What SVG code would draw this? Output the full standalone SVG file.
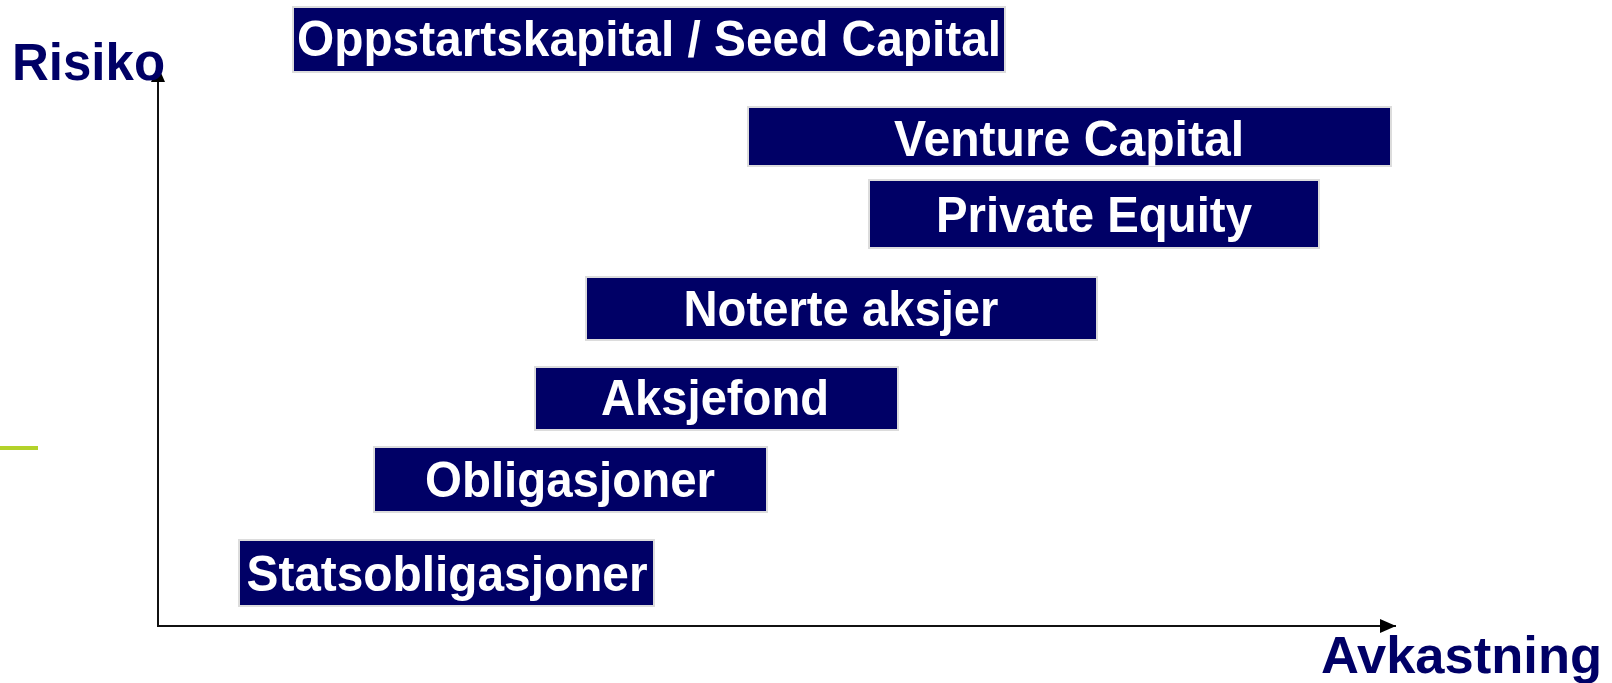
<svg xmlns="http://www.w3.org/2000/svg" width="1612" height="683" viewBox="0 0 1612 683">
  <style>
    .box rect { fill: #000066; stroke: #dcdcdc; stroke-width: 2; }
    .box text { fill: #ffffff; font-family: "Liberation Sans", Arial, sans-serif; font-weight: bold; font-size: 50px; text-anchor: middle; }
    .axislabel { fill: #000066; font-family: "Liberation Sans", Arial, sans-serif; font-weight: bold; }
    .axis { stroke: #111111; stroke-width: 2; fill: none; }
  </style>
  <defs>
    <marker id="arrow" viewBox="0 0 16 14" refX="16" refY="7" markerWidth="16" markerHeight="14" markerUnits="userSpaceOnUse" orient="auto">
      <path d="M0,0 L16,7 L0,14 Z" fill="#000000"/>
    </marker>
  </defs>
  <rect width="1612" height="683" fill="#ffffff"/>
  <line x1="0" y1="448" x2="38" y2="448" stroke="#b3d22a" stroke-width="4"/>

  <g id="connectors">
    <line class="axis" x1="158" y1="626" x2="158" y2="66" marker-end="url(#arrow)"/>
    <line class="axis" x1="157" y1="626" x2="1396" y2="626" marker-end="url(#arrow)"/>
  </g>

  <g id="label-risiko">
    <text class="axislabel" x="12" y="80" font-size="51">Risiko</text>
  </g>
  <g id="label-avkastning">
    <text class="axislabel" x="1321" y="673" font-size="52.5">Avkastning</text>
  </g>

  <g id="node-oppstart" class="box">
    <rect x="293" y="7" width="712" height="65"/>
    <text x="649" y="56" textLength="704" lengthAdjust="spacingAndGlyphs">Oppstartskapital / Seed Capital</text>
  </g>
  <g id="node-venture" class="box">
    <rect x="748" y="107" width="643" height="59"/>
    <text x="1069" y="156" textLength="350" lengthAdjust="spacingAndGlyphs">Venture Capital</text>
  </g>
  <g id="node-private" class="box">
    <rect x="869" y="180" width="450" height="68"/>
    <text x="1094" y="232" textLength="316" lengthAdjust="spacingAndGlyphs">Private Equity</text>
  </g>
  <g id="node-noterte" class="box">
    <rect x="586" y="277" width="511" height="63"/>
    <text x="841" y="326" textLength="315" lengthAdjust="spacingAndGlyphs">Noterte aksjer</text>
  </g>
  <g id="node-aksjefond" class="box">
    <rect x="535" y="367" width="363" height="63"/>
    <text x="715" y="415" textLength="228" lengthAdjust="spacingAndGlyphs">Aksjefond</text>
  </g>
  <g id="node-obligasjoner" class="box">
    <rect x="374" y="447" width="393" height="65"/>
    <text x="570" y="497" textLength="290" lengthAdjust="spacingAndGlyphs">Obligasjoner</text>
  </g>
  <g id="node-stats" class="box">
    <rect x="239" y="540" width="415" height="66"/>
    <text x="447" y="591" textLength="401" lengthAdjust="spacingAndGlyphs">Statsobligasjoner</text>
  </g>
</svg>
